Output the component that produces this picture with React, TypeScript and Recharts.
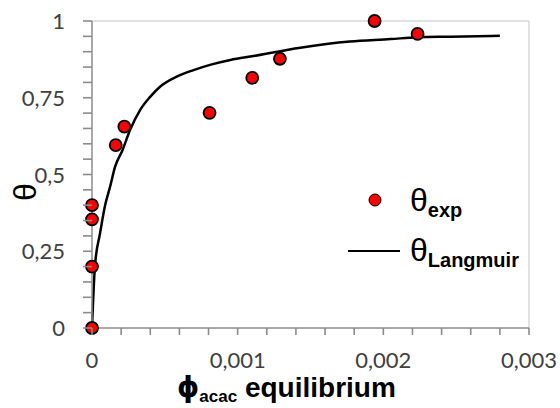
import { ComposedChart, Scatter, Line, XAxis, YAxis, ReferenceLine } from "recharts";

// experimental points (phi_acac, theta)
const expX = [0, 0, 0, 0, 0.000163, 0.000222, 0.000807, 0.0011, 0.00129, 0.00194, 0.002235];
const expY = [0, 0.2, 0.354, 0.4, 0.596, 0.656, 0.701, 0.815, 0.877, 1.0, 0.958];

// Langmuir fit
const fitX = [0, 0.00002, 0.000055, 0.00009, 0.000124, 0.000158, 0.00021, 0.000261, 0.00033, 0.000399, 0.000467, 0.000582, 0.000697, 0.00081, 0.00095, 0.00111, 0.00143, 0.00177, 0.00205, 0.00223, 0.00246, 0.0028];
const fitY = [0, 0.2, 0.308, 0.4, 0.46, 0.525, 0.58, 0.645, 0.71, 0.753, 0.786, 0.819, 0.84, 0.857, 0.873, 0.886, 0.913, 0.933, 0.941, 0.947, 0.949, 0.952];

const xTicks = [0, 0.0002, 0.0004, 0.0006, 0.0008, 0.001, 0.0012, 0.0014, 0.0016, 0.0018, 0.002, 0.0022, 0.0024, 0.0026, 0.0028, 0.003];
const yTicks = [0, 0.05, 0.1, 0.15, 0.2, 0.25, 0.3, 0.35, 0.4, 0.45, 0.5, 0.55, 0.6, 0.65, 0.7, 0.75, 0.8, 0.85, 0.9, 0.95, 1];
const xLabels: Record<string, string> = { "0": "0", "0.001": "0,001", "0.002": "0,002", "0.003": "0,003" };
const yLabels: Record<string, string> = { "0": "0", "0.25": "0,25", "0.5": "0,5", "0.75": "0,75", "1": "1" };

const points = expX.map((x, i) => ({ x, y: expY[i] }));
const curve = fitX.map((x, i) => ({ x, y: fitY[i] }));

const tickFont = "Lato, 'Open Sans', sans-serif";
const labelFont = "'Liberation Sans', Arial, sans-serif";
const gray = "#8c8c8c";

// tick mark + (sometimes) label; recharts hands us the label anchor
const XTick = (props: any) => {
  const { x, y, payload } = props;
  const label = xLabels[String(payload.value)];
  return (
    <g>
      <line x1={x} x2={x} y1={y - 8} y2={y - 1} stroke={gray} strokeWidth={1.6} />
      {label && (
        <text x={x} y={y + 32} textAnchor="middle" fontFamily={tickFont} fontSize={22} fill="#404040">
          {label}
        </text>
      )}
    </g>
  );
};

const YTick = (props: any) => {
  const { x, y, payload } = props;
  const label = yLabels[String(payload.value)];
  return (
    <g>
      <line x1={x + 1} x2={x + 10} y1={y} y2={y} stroke={gray} strokeWidth={1.6} />
      {label && (
        <text x={x - 17} y={y + 8} textAnchor="end" fontFamily={tickFont} fontSize={22} fill="#404040">
          {label}
        </text>
      )}
    </g>
  );
};

const Dot = (props: any) => {
  const { cx, cy } = props;
  return <circle cx={cx} cy={cy} r={6} fill="#ff0000" stroke="#000" strokeWidth={1.8} />;
};

const XLabel = () => (
  <text x={177} y={397} fontFamily={labelFont} fontWeight="bold" fill="#000">
    <tspan fontSize={28} fontWeight="bold" fontFamily="'DejaVu Sans', sans-serif">ϕ</tspan>
    <tspan fontSize={17} dy={5}>acac</tspan>
    <tspan fontSize={28} dy={-5}> equilibrium</tspan>
  </text>
);

const YLabel = () => (
  <text x={25} y={192} transform="rotate(-90 25 192)" textAnchor="middle" dominantBaseline="central" fontFamily={labelFont} fontSize={32} fill="#000">
    θ
  </text>
);

const LegendBox = () => (
  <svg width={200} height={90} style={{ position: "absolute", left: 340, top: 185, overflow: "visible" }}>
    <circle cx={35} cy={15} r={6} fill="#ff0000" stroke="#000" strokeWidth={1} />
    <text x={70} y={26} fontFamily={labelFont} fill="#000">
      <tspan fontSize={32}>θ</tspan>
      <tspan fontSize={20} fontWeight="bold" dy={6}>exp</tspan>
    </text>
    <line x1={8} x2={60} y1={66} y2={66} stroke="#000" strokeWidth={2} />
    <text x={70} y={76} fontFamily={labelFont} fill="#000">
      <tspan fontSize={32}>θ</tspan>
      <tspan fontSize={20} fontWeight="bold" dy={6}>Langmuir</tspan>
    </text>
  </svg>
);

export default function App() {
  return (
    <div style={{ position: "absolute", left: 0, top: 0, width: 560, height: 408, background: "#fff" }}>
      <ComposedChart width={560} height={408} margin={{ top: 21, right: 31, left: 0, bottom: 0 }}>
        <XAxis
          type="number"
          dataKey="x"
          domain={[0, 0.003]}
          ticks={xTicks}
          interval={0}
          height={80}
          stroke={gray}
          strokeWidth={1.5}
          tickSize={6}
          tickLine={false}
          tick={<XTick />}
          label={{ content: <XLabel /> }}
        />
        <YAxis
          type="number"
          dataKey="y"
          domain={[0, 1]}
          ticks={yTicks}
          interval={0}
          width={92}
          stroke={gray}
          strokeWidth={1.5}
          tickSize={8}
          tickLine={false}
          tick={<YTick />}
          label={{ content: <YLabel /> }}
        />
        <ReferenceLine y={1} stroke="#d9d9d9" strokeWidth={1.5} />
        <ReferenceLine x={0.003} stroke="#d9d9d9" strokeWidth={1.5} />
        <Line data={curve} dataKey="y" type="monotone" stroke="#000" strokeWidth={2.5} dot={false} isAnimationActive={false} />
        <Scatter data={points} dataKey="y" shape={<Dot />} isAnimationActive={false} />
      </ComposedChart>
      <LegendBox />
    </div>
  );
}
